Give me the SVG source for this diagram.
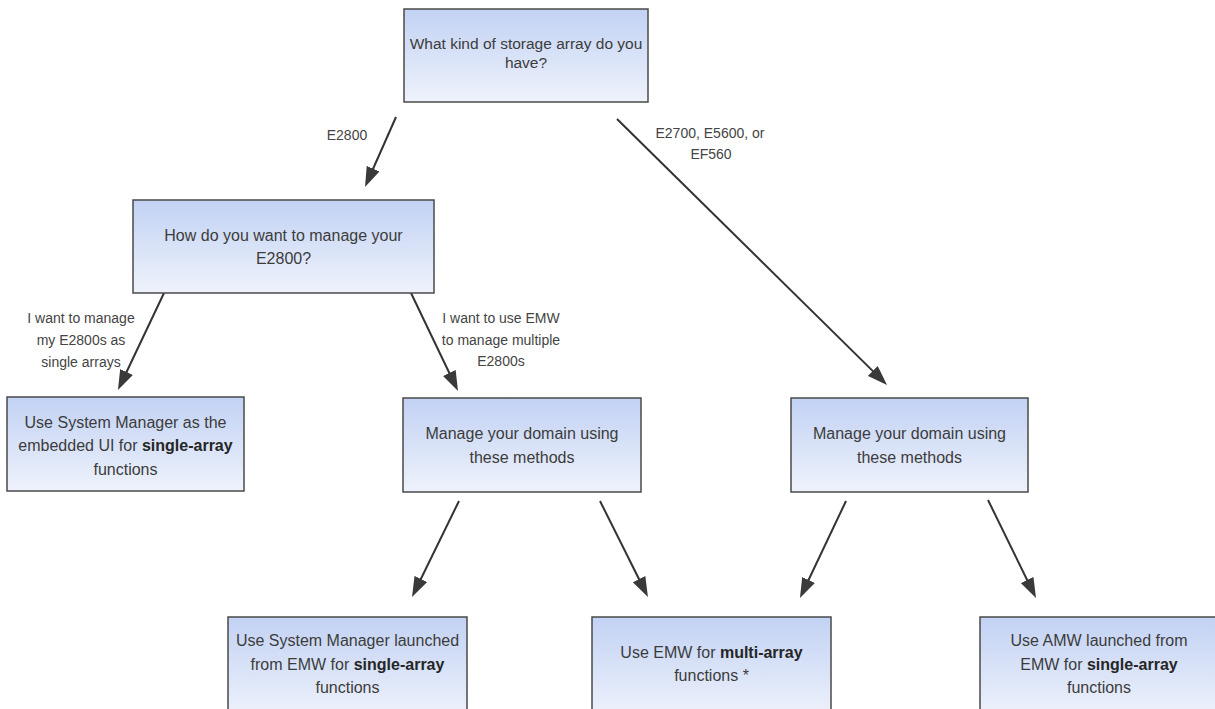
<svg xmlns="http://www.w3.org/2000/svg" width="1215" height="709" viewBox="0 0 1215 709">
<defs>
<linearGradient id="boxfill" x1="0" y1="0" x2="0" y2="1">
<stop offset="0" stop-color="#c2d2f4"/>
<stop offset="1" stop-color="#eef2fb"/>
</linearGradient>
<marker id="arr" markerUnits="userSpaceOnUse" markerWidth="20" markerHeight="14" viewBox="0 0 20 14" refX="8" refY="7" orient="auto">
<path d="M0,0 L20,7 L0,14 z" fill="#3a3a3a"/>
</marker>
<style>
.box{fill:url(#boxfill);stroke:#4a4a4a;stroke-width:1.5}
.t{font-family:"Liberation Sans",Arial,sans-serif;font-size:16px;fill:#3c3c3c;text-anchor:middle}
.tt{font-size:15.5px}
.lbl{font-family:"Liberation Sans",Arial,sans-serif;font-size:14px;fill:#444;text-anchor:middle}
.b{font-weight:bold;fill:#262626}
.conn line{stroke:#333;stroke-width:2;marker-end:url(#arr)}
</style>
</defs>
<rect width="1215" height="709" fill="#fff"/>

<g id="connectors" class="conn">
<line x1="396" y1="117" x2="369.9" y2="176.0"/>
<line x1="617" y1="119" x2="878.5" y2="376.6"/>
<line x1="164" y1="293" x2="123.1" y2="379.2"/>
<line x1="411" y1="293" x2="452.8" y2="380.2"/>
<line x1="459" y1="501" x2="417.3" y2="586.2"/>
<line x1="600" y1="501" x2="642.6" y2="586.3"/>
<line x1="846" y1="501" x2="805.1" y2="587.2"/>
<line x1="988" y1="500" x2="1030.7" y2="587.2"/>
</g>

<g id="labels">
<text class="lbl" x="347" y="140">E2800</text>
<text class="lbl" x="710" y="138">E2700, E5600, or</text>
<text class="lbl" x="711" y="159">EF560</text>
<text class="lbl" x="81" y="323">I want to manage</text>
<text class="lbl" x="81" y="345">my E2800s as</text>
<text class="lbl" x="81" y="367">single arrays</text>
<text class="lbl" x="501" y="323">I want to use EMW</text>
<text class="lbl" x="501" y="345">to manage multiple</text>
<text class="lbl" x="501" y="366">E2800s</text>
</g>

<g id="node-storage">
<rect class="box" x="404" y="9" width="244" height="93"/>
<text class="t tt" x="526" y="48.5">What kind of storage array do you</text>
<text class="t tt" x="526" y="67.5">have?</text>
</g>

<g id="node-manage-e2800">
<rect class="box" x="133" y="200" width="301" height="93"/>
<text class="t" x="283.5" y="240.5">How do you want to manage your</text>
<text class="t" x="283.5" y="263.5">E2800?</text>
</g>

<g id="node-system-manager">
<rect class="box" x="7" y="397" width="237" height="94"/>
<text class="t" x="125.5" y="427.5">Use System Manager as the</text>
<text class="t" x="125.5" y="451">embedded UI for <tspan class="b">single-array</tspan></text>
<text class="t" x="125.5" y="474.5">functions</text>
</g>

<g id="node-domain-1">
<rect class="box" x="403" y="398" width="238" height="94"/>
<text class="t" x="522" y="438.5">Manage your domain using</text>
<text class="t" x="522" y="462.5">these methods</text>
</g>

<g id="node-domain-2">
<rect class="box" x="791" y="398" width="237" height="94"/>
<text class="t" x="909.5" y="438.5">Manage your domain using</text>
<text class="t" x="909.5" y="462.5">these methods</text>
</g>

<g id="node-sm-emw">
<rect class="box" x="228" y="617" width="239" height="100"/>
<text class="t" x="347.5" y="645.5">Use System Manager launched</text>
<text class="t" x="347.5" y="669.5">from EMW for <tspan class="b">single-array</tspan></text>
<text class="t" x="347.5" y="692.5">functions</text>
</g>

<g id="node-emw-multi">
<rect class="box" x="592" y="617" width="239" height="100"/>
<text class="t" x="711.5" y="657.5">Use EMW for <tspan class="b">multi-array</tspan></text>
<text class="t" x="711.5" y="680.5">functions *</text>
</g>

<g id="node-amw">
<rect class="box" x="980" y="617" width="240" height="100"/>
<text class="t" x="1099" y="645.5">Use AMW launched from</text>
<text class="t" x="1099" y="669.5">EMW for <tspan class="b">single-array</tspan></text>
<text class="t" x="1099" y="692.5">functions</text>
</g>
</svg>
